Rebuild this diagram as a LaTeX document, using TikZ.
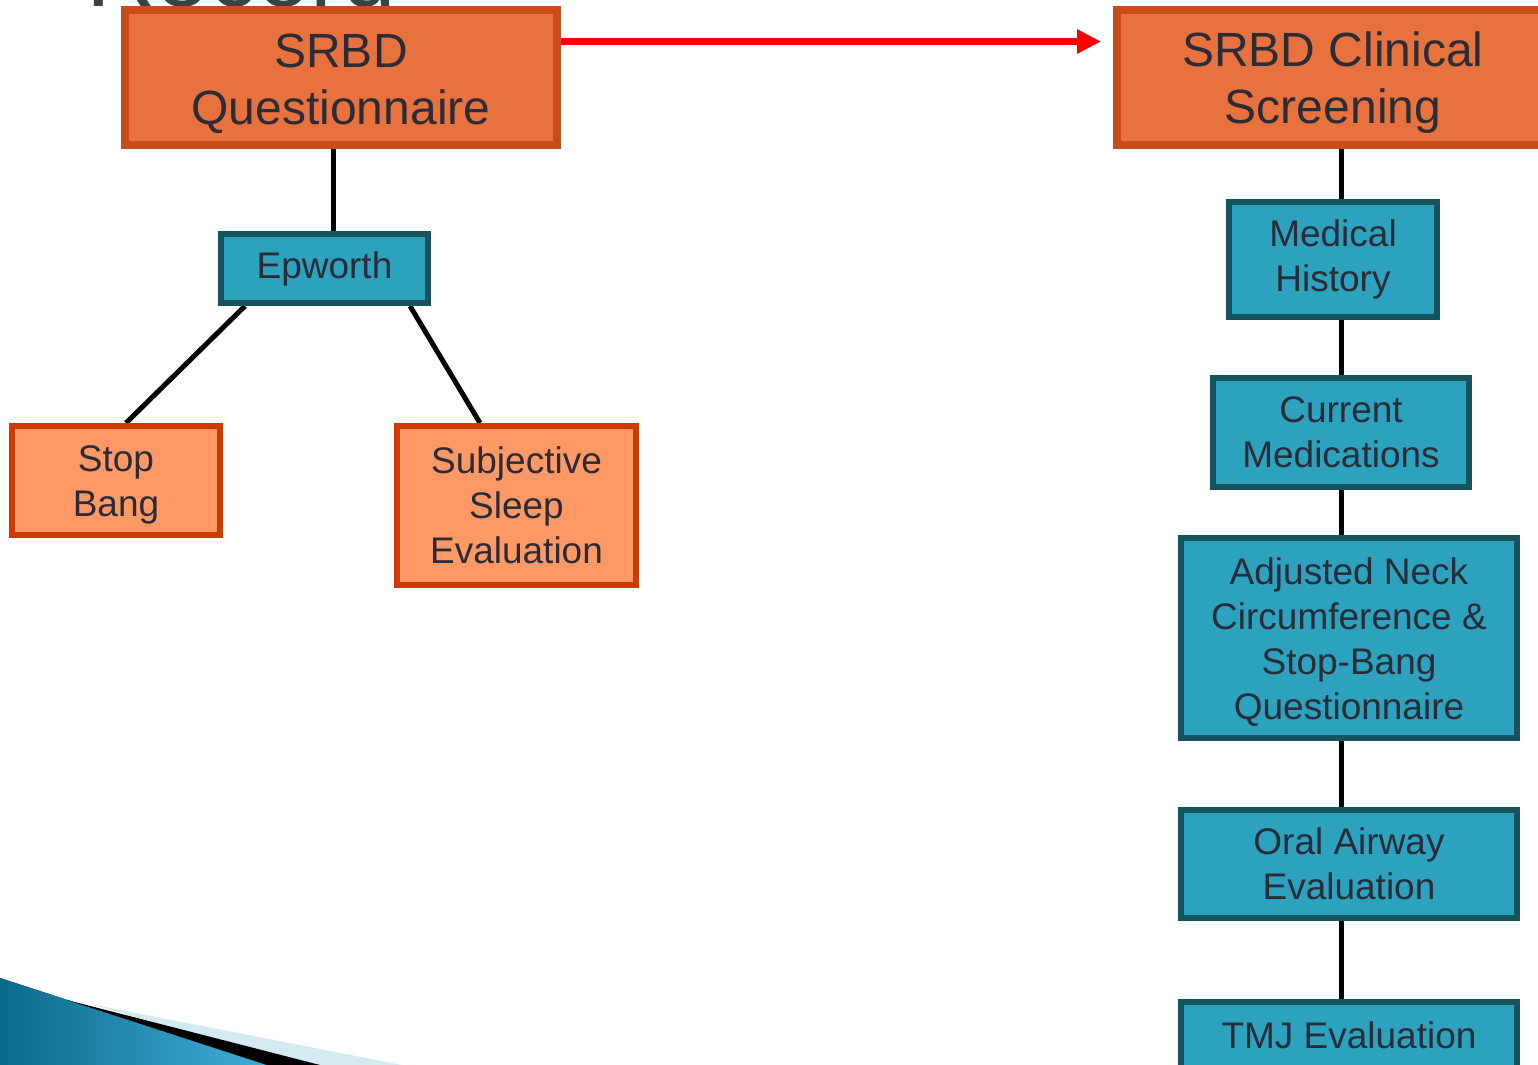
\documentclass[tikz,border=0pt]{standalone}
\usepackage{fontspec}
\setmainfont{Liberation Sans}
\usepackage{tikz}
\usetikzlibrary{arrows.meta, positioning, backgrounds}
\definecolor{orangedark}{HTML}{C84D18}
\definecolor{orangefill}{HTML}{E8723D}
\definecolor{peachline}{HTML}{CF3A02}
\definecolor{peachfill}{HTML}{FE9966}
\definecolor{tealline}{HTML}{19525F}
\definecolor{tealfill}{HTML}{2CA2BF}
\definecolor{inkgray}{HTML}{2A2C38}
\definecolor{swdark}{HTML}{0B6A8A}
\definecolor{swlight}{HTML}{3FAED8}
\definecolor{swpale}{HTML}{D4EAF2}
\newcommand{\boxlift}[1]{\rule{0pt}{#1}}

\begin{document}
\begin{tikzpicture}[
  x=0.5pt, y=-0.5pt,
  headbox/.style={rectangle, draw=orangedark, fill=orangefill, line width=4pt, inner sep=0pt,
    minimum width=216pt, minimum height=67.5pt, align=center, text=inkgray,
    font=\fontsize{24}{28.5}\selectfont},
  subbox/.style={rectangle, draw=peachline, fill=peachfill, line width=3pt, inner sep=0pt,
    align=center, text=inkgray, font=\fontsize{18.5}{22.5}\selectfont},
  tealbox/.style={rectangle, draw=tealline, fill=tealfill, line width=3pt, inner sep=0pt,
    align=center, text=inkgray, font=\fontsize{18.5}{22.5}\selectfont},
  link/.style={line width=2.5pt, black},
  redarrow/.style={-{Triangle[length=12pt, width=11.5pt]}, line width=3.5pt, red, shorten >=6pt}
]
  \useasboundingbox (0,0) rectangle (1538,1065);

  % slide title, cut off at the top
  \node[anchor=base west, inner sep=0pt, text=black!75, font=\fontsize{48}{50}\selectfont] (title) at (86,7) {Record};

  % left tree
  \node[headbox] (quest) at (341,77.5) {\boxlift{22.8pt}SRBD\\Questionnaire};
  \node[tealbox, minimum width=103.5pt, minimum height=34.5pt] (epworth) at (324.5,268.5) {Epworth};
  \node[subbox, minimum width=104pt, minimum height=54.5pt] (stopbang) at (116,480.5) {\boxlift{17.7pt}Stop\\Bang};
  \node[subbox, minimum width=119.5pt, minimum height=79.5pt] (subjective) at (516.5,505.5) {Subjective\\Sleep\\Evaluation};

  % right column
  \node[headbox] (clinical) at (1333,77.5) {\boxlift{22.8pt}SRBD Clinical\\Screening};
  \node[tealbox, minimum width=104pt, minimum height=57.5pt] (medhist) at (1333,259.5) {Medical\\History};
  \node[tealbox, minimum width=128pt, minimum height=54.5pt] (medic) at (1341,432.5) {Current\\Medications};
  \node[tealbox, minimum width=168pt, minimum height=100pt] (neck) at (1349,638) {\boxlift{17.5pt}Adjusted Neck\\Circumference \&\\Stop-Bang\\Questionnaire};
  \node[tealbox, minimum width=168pt, minimum height=54pt] (airway) at (1349,864) {Oral Airway\\Evaluation};
  \node[tealbox, minimum width=168pt, minimum height=33.5pt] (tmj) at (1349,1035.5) {TMJ Evaluation};

  \begin{scope}[on background layer]
    \draw[link] ([xshift=4.25pt]epworth.north |- quest.south) -- ([xshift=4.25pt]epworth.north);
    \draw[link] ([xshift=-39.75pt]epworth.south) -- ([xshift=5pt]stopbang.north);
    \draw[link] ([xshift=42.75pt]epworth.south) -- ([xshift=-18.25pt]subjective.north);

    \draw[link] (clinical.south -| medic) -- (medhist.north -| medic);
    \draw[link] (medhist.south -| medic) -- (medic.north);
    \draw[link] (medic.south) -- (neck.north -| medic);
    \draw[link] (neck.south -| medic) -- (airway.north -| medic);
    \draw[link] (airway.south -| medic) -- (tmj.north -| medic);
  \end{scope}

  \draw[redarrow] ([yshift=18pt]quest.east) -- ([yshift=18pt]clinical.west);

  % corner swoosh
  \fill[swpale] (90,1004) -- (402,1065) -- (300,1065) -- cycle;
  \fill[left color=swdark, right color=swlight] (0,978) -- (267,1065) -- (0,1065) -- cycle;
  \fill[black] (67,1000) -- (320,1065) -- (267,1065) -- cycle;
\end{tikzpicture}
\end{document}
